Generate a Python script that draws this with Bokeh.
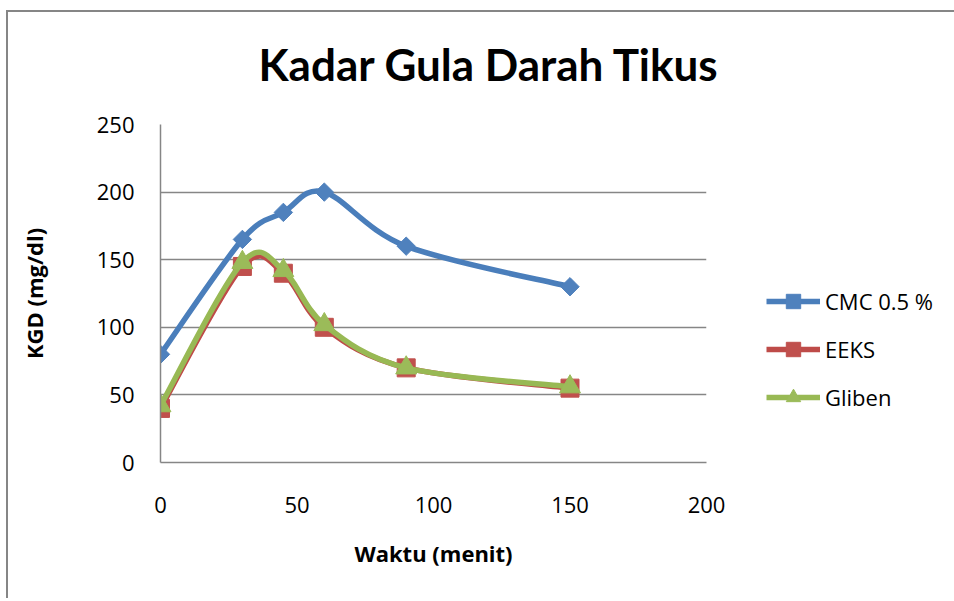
import numpy as np
from bokeh.plotting import figure
from bokeh.models import (ColumnDataSource, Range1d, FixedTicker, Legend,
                          LegendItem)
from bokeh.embed import file_html
from bokeh.resources import INLINE

# ---- data ----
waktu = [0, 30, 45, 60, 90, 150]
cmc = [80, 165, 185, 200, 160, 130]
eeks = [40, 145, 140, 100, 70, 55]
gliben = [42, 148, 142, 102, 70, 56]
series_names = ["CMC 0.5 %", "EEKS", "Gliben"]
x_ticks = [0, 50, 100, 150, 200]
y_ticks = [0, 50, 100, 150, 200, 250]
title_text = "Kadar Gula Darah Tikus"
x_title = "Waktu (menit)"
y_title = "KGD (mg/dl)"

line_colors = ["#4A7EBB", "#BE4B48", "#98B954"]
fill_colors = ["#4F81BD", "#C0504D", "#9BBB59"]
markers = ["square", "square", "triangle"]
angles = [np.pi / 4, 0, 0]
msizes = [13, 18, 21]

FONT = "Open Sans"

p = figure(frame_width=546, frame_height=338,
           output_backend="svg", toolbar_location=None,
           x_range=Range1d(0, 200), y_range=Range1d(0, 250),
           min_border_left=160, min_border_right=244,
           min_border_top=124, min_border_bottom=136)
p.outline_line_color = None
p.background_fill_color = "white"
p.border_fill_color = None
# outer chart border (left and top edges), drawn behind the transparent canvas border
p.styles = {
    "background-color": "white",
    "background-image": ("linear-gradient(#868686, #868686), "
                         "linear-gradient(#868686, #868686)"),
    "background-position": "6px 10px, 6px 10px",
    "background-size": "2px 100%, 100% 2px",
    "background-repeat": "no-repeat, no-repeat",
}

# title
p.title.text = title_text
p.title.align = "left"
p.title.offset = 98
p.title.standoff = 70
p.title.text_font = "Lato"
p.title.text_font_size = "44px"
p.title.text_font_style = "bold"
p.title.text_color = "black"

# axes
for ax in (p.xaxis[0], p.yaxis[0]):
    ax.axis_line_color = "#868686"
    ax.axis_line_width = 1.5
    ax.major_tick_line_color = None
    ax.minor_tick_line_color = None
    ax.major_tick_out = 0
    ax.major_tick_in = 0
    ax.minor_tick_out = 0
    ax.major_label_text_font = FONT
    ax.major_label_text_font_size = "22px"
    ax.major_label_text_color = "black"
    ax.axis_label_text_font = FONT
    ax.axis_label_text_font_size = "22px"
    ax.axis_label_text_font_style = "bold"
    ax.axis_label_text_color = "black"

p.xaxis.ticker = FixedTicker(ticks=x_ticks)
p.yaxis.ticker = FixedTicker(ticks=y_ticks)
p.xaxis.major_label_standoff = 34
p.yaxis.major_label_standoff = 26
p.xaxis.axis_label = x_title
p.yaxis.axis_label = y_title
p.xaxis.axis_label_standoff = 22
p.yaxis.axis_label_standoff = 45

p.xgrid.grid_line_color = None
p.ygrid.grid_line_color = "#868686"
p.ygrid.grid_line_width = 1.5
p.ygrid.ticker = FixedTicker(ticks=y_ticks)


def smooth_segments(xs, ys):
    """Cubic Bezier segments through the data points (Excel-style smoothing)."""
    xs = np.asarray(xs, float)
    ys = np.asarray(ys, float)
    n = len(xs)
    d = dict(x0=[], y0=[], x1=[], y1=[], cx0=[], cy0=[], cx1=[], cy1=[])
    for i in range(n - 1):
        i0 = max(i - 1, 0)
        i3 = min(i + 2, n - 1)
        d["x0"].append(xs[i]); d["y0"].append(ys[i])
        d["x1"].append(xs[i + 1]); d["y1"].append(ys[i + 1])
        d["cx0"].append(xs[i] + (xs[i + 1] - xs[i0]) / 6)
        d["cy0"].append(ys[i] + (ys[i + 1] - ys[i0]) / 6)
        d["cx1"].append(xs[i + 1] - (xs[i3] - xs[i]) / 6)
        d["cy1"].append(ys[i + 1] - (ys[i3] - ys[i]) / 6)
    return d


items = []
for name, vals, lc, fc, mk, ang, ms in zip(series_names, [cmc, eeks, gliben],
                                           line_colors, fill_colors, markers,
                                           angles, msizes):
    seg = ColumnDataSource(smooth_segments(waktu, vals))
    r_line = p.bezier(x0="x0", y0="y0", x1="x1", y1="y1", cx0="cx0", cy0="cy0",
                      cx1="cx1", cy1="cy1", source=seg, line_color=lc,
                      line_width=5.5)
    r_mk = p.scatter(waktu, vals, marker=mk, size=ms, angle=ang,
                     fill_color=fc, line_color=fc, line_width=1)
    items.append(LegendItem(label=name, renderers=[r_line, r_mk]))

legend = Legend(items=items, location=(60, 47))
legend.label_text_font = FONT
legend.label_text_font_size = "22px"
legend.label_text_color = "black"
legend.label_standoff = 5
legend.glyph_width = 54
legend.glyph_height = 36
legend.label_height = 36
legend.spacing = 12
legend.padding = 0
legend.margin = 0
legend.border_line_alpha = 0
legend.background_fill_alpha = 0
p.add_layout(legend, "right")

open("out.html", "w").write(file_html(p, INLINE))
